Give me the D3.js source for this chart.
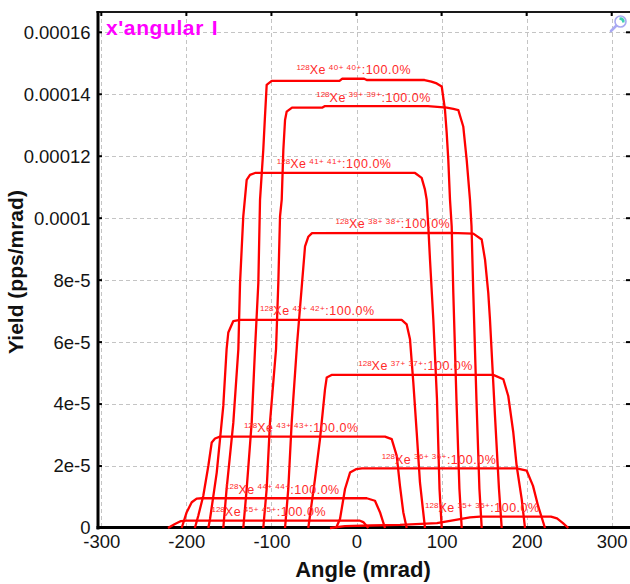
<!DOCTYPE html>
<html>
<head>
<meta charset="utf-8">
<script src="https://cdn.jsdelivr.net/npm/d3@7"></script>
<style>
  html, body { margin: 0; padding: 0; background: #fff; }
  svg { display: block; font-family: "Liberation Sans", Arial, sans-serif; }
</style>
</head>
<body>
<svg id="chart" width="630" height="584"></svg>
<script>
// ---- axis ticks and titles ----
const xTickValues = [-300, -200, -100, 0, 100, 200, 300];
const yTickValues = [0, 2e-5, 4e-5, 6e-5, 8e-5, 1e-4, 1.2e-4, 1.4e-4, 1.6e-4];
const yTickLabels = ["0", "2e-5", "4e-5", "6e-5", "8e-5", "0.0001", "0.00012", "0.00014", "0.00016"];
const titleText = "x'angular I";
const xTitle = "Angle (mrad)";
const yTitle = "Yield (pps/mrad)";

// ---- beam species ----
const massNumber = "128";
const elementSymbol = "Xe";
const chargeStates = [40, 39, 41, 38, 42, 37, 43, 36, 44, 35, 45];
const fractions = ["100.0%", "100.0%", "100.0%", "100.0%", "100.0%", "100.0%",
                   "100.0%", "100.0%", "100.0%", "100.0%", "100.0%"];

// ---- angular distributions: [angle (mrad), yield (pps/mrad)] ----
const q40 = [[-133.1,0],[-129.1,1.26e-5],[-123.2,3.41e-5],[-119.3,5.77e-5],[-115.4,7.91e-5],
  [-113.4,1.06e-4],[-109.6,1.22e-4],[-107.6,1.328e-4],[-105.6,1.43e-4],[-99.7,1.443e-4],
  [-20,1.443e-4],[-17,1.45e-4],[9,1.45e-4],[12,1.446e-4],[80,1.446e-4],[88,1.441e-4],
  [94.3,1.435e-4],[100.2,1.425e-4],[104.0,1.35e-4],[106.0,1.276e-4],[107.9,1.189e-4],
  [109.9,1.06e-4],[111.9,9.74e-5],[113.8,7.59e-5],[117.5,4.15e-5],[121.0,1.26e-5],[123.7,0]];
const q39 = [[-109.6,0],[-105.6,1.26e-5],[-101.7,3.41e-5],[-94.6,5.77e-5],[-91.9,7.92e-5],
  [-89.9,1.006e-4],[-87.9,1.06e-4],[-86.0,1.221e-4],[-84.0,1.317e-4],[-82.1,1.344e-4],
  [-75.8,1.357e-4],[-40,1.357e-4],[-37,1.362e-4],[84,1.362e-4],[106,1.357e-4],
  [113.8,1.353e-4],[119.7,1.349e-4],[125.5,1.296e-4],[129.5,1.189e-4],[133.4,1.06e-4],
  [135.2,9.74e-5],[137.3,7.59e-5],[141.0,4.15e-5],[144.5,1.26e-5],[147.2,0]];
const q41 = [[-156.6,0],[-152.7,1.26e-5],[-144.8,3.4e-5],[-138.9,5.77e-5],[-136.9,7.91e-5],
  [-135.0,8.99e-5],[-133.1,1.006e-4],[-129.1,1.124e-4],[-125.2,1.14e-4],[-119.3,1.146e-4],
  [68.8,1.146e-4],[76.6,1.13e-4],[80.5,1.092e-4],[82.5,1.06e-4],[84.4,9.74e-5],
  [86.4,8.66e-5],[90.3,6.73e-5],[94.6,4.16e-5],[97.6,1.26e-5],[100.2,0]];
const q38 = [[-84.0,0],[-80.2,1.26e-5],[-76.2,3.41e-5],[-69.9,5.93e-5],[-64.0,7.91e-5],
  [-60.5,9.09e-5],[-56.7,9.4e-5],[-52.3,9.52e-5],[110,9.525e-5],[137.3,9.5e-5],
  [147.2,9.31e-5],[151.1,8.66e-5],[154.9,7.59e-5],[156.9,6.73e-5],[162.8,3.62e-5],
  [167.5,1.26e-5],[170.7,0]];
const q42 = [[-174.2,0],[-172.2,2.9e-6],[-164.3,1.79e-5],[-156.6,3.94e-5],[-152.7,5.77e-5],
  [-150.7,6.31e-5],[-144.8,6.68e-5],[-137.0,6.716e-5],[53.1,6.716e-5],[59.0,6.57e-5],
  [62.9,6.09e-5],[66.8,4.69e-5],[70.8,3.08e-5],[74.6,1.47e-5],[80.5,0]];
const q37 = [[-56.7,0],[-54.7,3.96e-6],[-48.8,1.58e-5],[-42.9,2.87e-5],[-37.0,4.48e-5],
  [-35.0,4.86e-5],[-28.8,4.944e-5],[160.8,4.944e-5],[172.6,4.8e-5],[178.4,4.26e-5],
  [184.3,3.09e-5],[188.3,2.0e-5],[194.2,9.3e-6],[198.1,0]];
const q43 = [[-190.0,0],[-186.0,3.96e-6],[-180.1,1.04e-5],[-174.2,2.0e-5],[-170.2,2.76e-5],
  [-166.3,2.89e-5],[-160.5,2.95e-5],[33.5,2.95e-5],[41.4,2.87e-5],[47.3,2.33e-5],
  [51.1,1.36e-5],[55.0,5.1e-6],[59.0,0]];
const q36 = [[-24.1,0],[-19.4,2.9e-6],[-13.5,1.26e-5],[-7.6,1.79e-5],[-0.6,1.9e-5],
  [6.5,1.923e-5],[188.3,1.923e-5],[200.1,1.85e-5],[207.5,1.36e-5],[213.4,7.2e-6],[221.6,0]];
const q44 = [[-205.5,0],[-199.6,5.1e-6],[-193.7,8.3e-6],[-187.9,9.5e-6],[-181.6,9.6e-6],
  [12.0,9.6e-6],[21.7,8.8e-6],[27.6,5.1e-6],[33.5,0]];
const q35 = [[-31.2,0],[-13.5,6e-7],[16.0,8e-7],[51.1,1.0e-6],[94.6,1.6e-6],[121.7,2.9e-6],
  [133.4,3.45e-6],[145.2,3.7e-6],[228.6,3.7e-6],[235.7,3.1e-6],[242.7,1.6e-6],[249.0,0]];
const q45 = [[-221.6,0],[-213.4,1.3e-6],[-206.3,2.25e-6],[-200,2.35e-6],[4.1,2.35e-6],
  [8.0,1.9e-6],[13.9,0]];

const distributions = [q40, q39, q41, q38, q42, q37, q43, q36, q44, q35, q45];

// ---- layout ----
const svg = d3.select("#chart");
const frame = { left: 98, right: 630, top: 12, bottom: 528 };

const x = d3.scaleLinear().domain([-300, 300]).range([101.3, 611.7]);
const y = d3.scaleLinear().domain([0, 1.6e-4]).range([528, 32.3]);

// dashed grid
const grid = svg.append("g").attr("stroke", "#c4c4c4").attr("stroke-width", 1)
  .attr("stroke-dasharray", "4,3").attr("shape-rendering", "crispEdges");
grid.selectAll("line.vx").data(xTickValues).join("line")
  .attr("x1", d => Math.round(x(d)) + 0.5).attr("x2", d => Math.round(x(d)) + 0.5)
  .attr("y1", frame.top).attr("y2", frame.bottom);
grid.selectAll("line.hy").data(yTickValues.slice(1)).join("line")
  .attr("x1", frame.left).attr("x2", frame.right)
  .attr("y1", d => Math.round(y(d)) + 0.5).attr("y2", d => Math.round(y(d)) + 0.5);

// title
svg.append("text")
  .attr("x", 106).attr("y", 35)
  .attr("fill", "#ff00ff").attr("font-weight", "bold").attr("font-size", 21)
  .attr("letter-spacing", 0.6).attr("word-spacing", 1.5)
  .text(titleText);

// zoom icon
const icon = svg.append("g").attr("transform", "translate(620.5,21.5)");
icon.append("line").attr("x1", -4).attr("y1", 4).attr("x2", -9.5).attr("y2", 9.5)
  .attr("stroke", "#a9a9f2").attr("stroke-width", 2.6).attr("stroke-linecap", "round");
icon.append("circle").attr("r", 5.5).attr("fill", "#ffffff")
  .attr("stroke", "#a9a9f2").attr("stroke-width", 1.6);
icon.append("path").attr("d", "M-1,-4 A4,4 0 0 1 4,1 L1.5,1 A2,2 0 0 0 -1,-1.5 Z")
  .attr("fill", "#3fd0b2");

// frame
svg.append("line").attr("x1", frame.left - 1.5).attr("x2", frame.right)
  .attr("y1", frame.top).attr("y2", frame.top)
  .attr("stroke", "#1a1a1a").attr("stroke-width", 2);
svg.append("line").attr("x1", frame.left).attr("x2", frame.left)
  .attr("y1", frame.top - 1).attr("y2", frame.bottom + 1.5)
  .attr("stroke", "#000").attr("stroke-width", 3);
svg.append("line").attr("x1", frame.left - 1.5).attr("x2", frame.right)
  .attr("y1", frame.bottom - 0.5).attr("y2", frame.bottom - 0.5)
  .attr("stroke", "#000").attr("stroke-width", 3);

// small inner tick marks
const tickMarks = svg.append("g").attr("stroke", "#000").attr("stroke-width", 2);
tickMarks.selectAll("line.tx").data(xTickValues).join("line")
  .attr("x1", d => x(d)).attr("x2", d => x(d)).attr("y1", frame.top).attr("y2", frame.top + 4);
tickMarks.selectAll("line.ly").data(yTickValues.slice(1)).join("line")
  .attr("x1", frame.left).attr("x2", frame.left + 4).attr("y1", d => y(d)).attr("y2", d => y(d));
tickMarks.selectAll("line.ry").data(yTickValues.slice(1)).join("line")
  .attr("x1", frame.right - 4).attr("x2", frame.right).attr("y1", d => y(d)).attr("y2", d => y(d));

// tick labels through d3 axes
const xAxis = svg.append("g").attr("transform", `translate(0,${frame.bottom})`)
  .call(d3.axisBottom(x).tickValues(xTickValues).tickSize(0).tickPadding(6.5)
    .tickFormat(d3.format("d")));
const yAxis = svg.append("g").attr("transform", `translate(${frame.left},0)`)
  .call(d3.axisLeft(y).tickValues(yTickValues).tickSize(0).tickPadding(7.5)
    .tickFormat((d, i) => yTickLabels[i]));
[xAxis, yAxis].forEach(g => {
  g.select(".domain").remove();
  g.selectAll("text").attr("font-size", 18.5).attr("fill", "#141414")
    .attr("font-family", "'Liberation Sans', Arial, sans-serif");
});
xAxis.selectAll("text").text(d => d3.format("d")(d).replace("\u2212", "-"));

// axis titles
svg.append("text").attr("x", 363).attr("y", 577).attr("text-anchor", "middle")
  .attr("font-weight", "bold").attr("font-size", 22).attr("fill", "#111").text(xTitle);
svg.append("text").attr("transform", "translate(22.5,272) rotate(-90)")
  .attr("text-anchor", "middle").attr("font-weight", "bold").attr("font-size", 21)
  .attr("fill", "#111").text(yTitle);

// distributions
const line = d3.line().x(d => x(d[0])).y(d => y(d[1]));
svg.append("g").selectAll("path").data(distributions).join("path")
  .attr("d", line).attr("fill", "none").attr("stroke", "#ff0000")
  .attr("stroke-width", 2.3).attr("stroke-linejoin", "round");

// yield-weighted mean angle for each label
function meanAngle(pts) {
  let num = 0, den = 0;
  for (let i = 0; i < pts.length - 1; i++) {
    const [a0, v0] = pts[i], [a1, v1] = pts[i + 1];
    const area = (a1 - a0) * (v0 + v1) / 2;
    num += area * (a0 + a1) / 2;
    den += area;
  }
  return num / den;
}

const labels = svg.append("g").attr("fill", "#ff2a2a").attr("text-anchor", "middle")
  .style("white-space", "pre");
distributions.forEach((pts, i) => {
  const q = chargeStates[i];
  const peak = d3.max(pts, d => d[1]);
  const t = labels.append("text")
    .attr("x", x(meanAngle(pts)) - 1)
    .attr("y", y(peak) - 4.5);
  t.append("tspan").attr("font-size", 8).attr("dy", -4.5).text(massNumber);
  t.append("tspan").attr("font-size", 12.5).attr("dy", 4.5).attr("letter-spacing", 0.5)
    .text(elementSymbol);
  t.append("tspan").attr("font-size", 8).attr("dy", -4.5).attr("letter-spacing", 0.5)
    .text(` ${q}+ ${q}+`);
  t.append("tspan").attr("font-size", 12.5).attr("dy", 4.5).attr("letter-spacing", 0.5)
    .text(`:${fractions[i]}`);
});
</script>
</body>
</html>
